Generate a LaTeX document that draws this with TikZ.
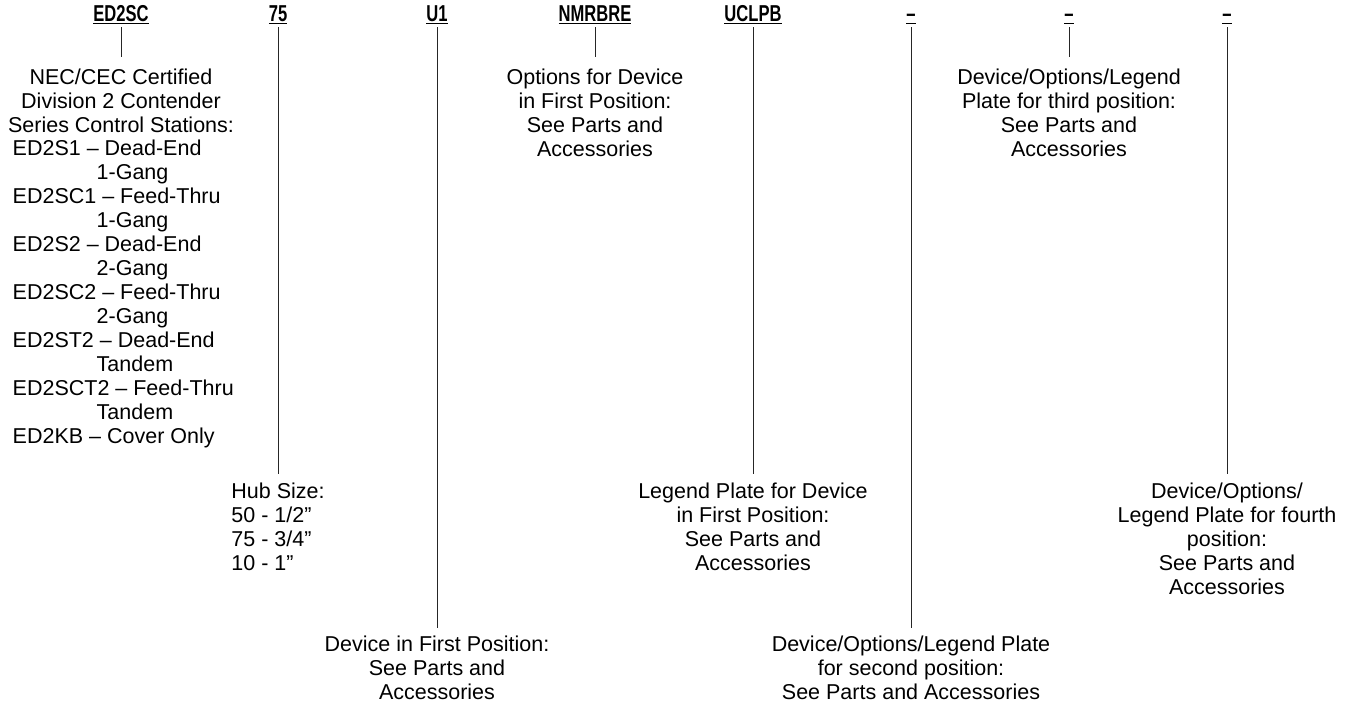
\documentclass[tikz,border=0pt]{standalone}
\usepackage{fontspec}
\setmainfont{Liberation Sans}
\newfontfamily\codefont{Liberation Sans}[FakeStretch=0.72]
\usepackage{tikz}

\begin{document}
\begin{tikzpicture}[x=1pt,y=-1pt,
    every node/.style={font=\fontsize{21.5}{24}\selectfont},
    code/.style={font=\fontsize{23}{24}\selectfont\codefont\bfseries, inner sep=0pt, outer sep=3.5pt, anchor=base},
    desc/.style={align=center, inner xsep=0pt, inner ysep=8pt, anchor=north},
    lead/.style={line width=0.8pt, black!85}]
    \useasboundingbox (0,0) rectangle (1347,704);

    % Catalog number parts
    \node[code] (ed2sc) at (121,21.5) {\underline{ED2SC}};
    \node[code] (hub) at (278,21.5) {\underline{75}};
    \node[code] (u1) at (437,21.5) {\underline{U1}};
    \node[code] (nmrbre) at (595,21.5) {\underline{NMRBRE}};
    \node[code] (uclpb) at (753,21.5) {\underline{UCLPB}};
    \node[code] (pos2) at (911,21.5) {\underline{–}};
    \node[code] (pos3) at (1069,21.5) {\underline{–}};
    \node[code] (pos4) at (1227,21.5) {\underline{–}};

    % Station series
    \node[desc, inner ysep=11.5pt] (ed2sc desc) at (121,57)
        {NEC/CEC Certified\\Division 2 Contender\\Series Control Stations:};
    \node[align=left, inner sep=0pt, anchor=north west] (ed2sc list) at (12.5,140)
        {ED2S1 – Dead-End\\\hspace*{84pt}1-Gang\\
         ED2SC1 – Feed-Thru\\\hspace*{84pt}1-Gang\\
         ED2S2 – Dead-End\\\hspace*{84pt}2-Gang\\
         ED2SC2 – Feed-Thru\\\hspace*{84pt}2-Gang\\
         ED2ST2 – Dead-End\\\hspace*{84pt}Tandem\\
         ED2SCT2 – Feed-Thru\\\hspace*{84pt}Tandem\\
         ED2KB – Cover Only};

    % Hub size
    \node[desc, align=left, inner ysep=8.5pt] (hub desc) at (278,474)
        {Hub Size:\\50 - 1/2”\\75 - 3/4”\\10 - 1”};

    % Devices and options
    \node[desc, inner ysep=7.5pt] (u1 desc) at (437,628)
        {Device in First Position:\\See Parts and\\Accessories};
    \node[desc, inner ysep=11.5pt] (nmrbre desc) at (595,57)
        {Options for Device\\in First Position:\\See Parts and\\Accessories};
    \node[desc, inner ysep=8.5pt] (uclpb desc) at (753,474)
        {Legend Plate for Device\\in First Position:\\See Parts and\\Accessories};
    \node[desc, inner ysep=7.5pt] (pos2 desc) at (911,628)
        {Device/Options/Legend Plate\\for second position:\\See Parts and Accessories};
    \node[desc, inner ysep=11.5pt] (pos3 desc) at (1069,57)
        {Device/Options/Legend\\Plate for third position:\\See Parts and\\Accessories};
    \node[desc, inner ysep=8.5pt] (pos4 desc) at (1227,474)
        {Device/Options/\\Legend Plate for fourth\\position:\\See Parts and\\Accessories};

    % Leader lines
    \draw[lead] (ed2sc.south) -- (ed2sc desc.north);
    \draw[lead] (hub.south) -- (hub desc.north);
    \draw[lead] (u1.south) -- (u1 desc.north);
    \draw[lead] (nmrbre.south) -- (nmrbre desc.north);
    \draw[lead] (uclpb.south) -- (uclpb desc.north);
    \draw[lead] (pos2.south) -- (pos2 desc.north);
    \draw[lead] (pos3.south) -- (pos3 desc.north);
    \draw[lead] (pos4.south) -- (pos4 desc.north);
\end{tikzpicture}
\end{document}
